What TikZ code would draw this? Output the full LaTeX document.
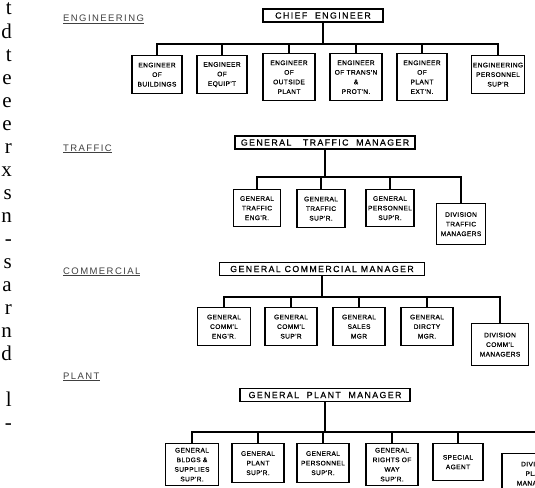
\documentclass[tikz,border=0pt]{standalone}
\usepackage{fontspec}
\setmainfont{Liberation Serif}
\newfontfamily\chartfont[LetterSpace=6,FakeBold=0.6]{Liberation Sans}
\newfontfamily\bossfont[LetterSpace=16,FakeBold=0.5]{Liberation Sans}
\newfontfamily\headfont[LetterSpace=15]{Liberation Sans}

\begin{document}
\begin{tikzpicture}[x=1pt,y=-1pt,
	unit/.style={draw,line width=1.3pt,align=center,anchor=north,inner sep=1.2pt,
		minimum height=38pt,font=\chartfont\fontsize{6.6}{9.6}\selectfont},
	boss/.style={draw,line width=1.3pt,inner sep=1pt,minimum height=13pt,
		font=\bossfont\fontsize{8.8}{10}\selectfont},
	dept/.style={anchor=base west,inner sep=0pt,text=black!75,font=\headfont\fontsize{9.5}{11}\selectfont},
	bus/.style={line width=2.6pt},
	margin/.style={anchor=base east,inner sep=0pt,font=\fontsize{21}{23}\selectfont}]

	\clip (0,0) rectangle (535,487);

	% cut-off column of the page
	\foreach \ch/\yy [count=\i] in {t/15,d/38,t/61,e/84,e/107,e/130,r/153,x/176,s/199,n/222,
		-/245,s/268,a/291,r/314,n/337,d/360,l/406,-/429}
		\node[margin] (m\i) at (12,\yy) {\ch};

	% department names
	\node[dept] (englbl) at (63,22) {\underline{ENGINEERING}};
	\node[dept] (trflbl) at (63,151) {\underline{TRAFFIC}};
	\node[dept] (comlbl) at (63,274) {\underline{COMMERCIAL}};
	\node[dept] (plalbl) at (63,379) {\underline{PLANT}};

	% engineering
	\node[boss,minimum width=120pt] (chief) at (323,15.5) {CHIEF\ \ ENGINEER};
	\coordinate (ebus) at (323,44);
	\node[unit,minimum width=50pt] (eng1) at (157,55) {ENGINEER\\OF\\BUILDINGS};
	\node[unit,minimum width=50pt] (eng2) at (222,55) {ENGINEER\\OF\\EQUIP'T};
	\node[unit,minimum width=52pt,minimum height=47pt] (eng3) at (289,53) {ENGINEER\\OF\\OUTSIDE\\PLANT};
	\node[unit,minimum width=52pt,minimum height=47pt] (eng4) at (356,53) {ENGINEER\\OF TRANS'N\\\&\\PROT'N.};
	\node[unit,minimum width=50pt,minimum height=47pt] (eng5) at (422,53) {ENGINEER\\OF\\PLANT\\EXT'N.};
	\node[unit,minimum width=50pt] (eng6) at (498,55) {ENGINEERING\\PERSONNEL\\SUP'R};

	\draw[bus] (chief) -- (ebus);
	\draw[bus] (eng1.north) |- (eng6.north |- ebus) -- (eng6.north);
	\foreach \n in {eng2,eng3,eng4,eng5}
		\draw[bus] (\n.north) -- (\n.north |- ebus);

	% traffic
	\node[boss,minimum width=180pt] (gtm) at (325,142.5) {GENERAL\ \ \ TRAFFIC\ \ MANAGER};
	\coordinate (tbus) at (325,177);
	\node[unit,minimum width=47pt,minimum height=37pt] (trf1) at (257,189) {GENERAL\\TRAFFIC\\ENG'R.};
	\node[unit,minimum width=48pt,minimum height=38pt] (trf2) at (321,189) {GENERAL\\TRAFFIC\\SUP'R.};
	\node[unit,minimum width=48pt,minimum height=37pt] (trf3) at (390,189) {GENERAL\\PERSONNEL\\SUP'R.};
	\node[unit,minimum width=49pt,minimum height=41pt] (trf4) at (461,203) {DIVISION\\TRAFFIC\\MANAGERS};

	\draw[bus] (gtm) -- (tbus);
	\draw[bus] (trf1.north) |- (trf4.north |- tbus) -- (trf4.north);
	\foreach \n in {trf2,trf3}
		\draw[bus] (\n.north) -- (\n.north |- tbus);

	% commercial
	\node[boss,minimum width=205pt] (gcm) at (322,269) {GENERAL COMMERCIAL MANAGER};
	\coordinate (cbus) at (322,297);
	\node[unit,minimum width=53pt] (com1) at (224,307) {GENERAL\\COMM'L\\ENG'R.};
	\node[unit,minimum width=52pt] (com2) at (291,307) {GENERAL\\COMM'L\\SUP'R};
	\node[unit,minimum width=52pt] (com3) at (359,307) {GENERAL\\SALES\\MGR};
	\node[unit,minimum width=52pt] (com4) at (427,307) {GENERAL\\DIRCTY\\MGR.};
	\node[unit,minimum width=57pt,minimum height=42pt] (com5) at (500,323) {DIVISION\\COMM'L\\MANAGERS};

	\draw[bus] (gcm) -- (cbus);
	\draw[bus] (com1.north) |- (com5.north |- cbus) -- (com5.north);
	\foreach \n in {com2,com3,com4}
		\draw[bus] (\n.north) -- (\n.north |- cbus);

	% plant
	\node[boss,minimum width=170pt] (gpm) at (325,395) {GENERAL\ \ PLANT\ \ MANAGER};
	\coordinate (pbus) at (325,432);
	\node[unit,minimum width=53pt,minimum height=42pt] (pla1) at (192,443) {GENERAL\\BLDGS \&\\SUPPLIES\\SUP'R.};
	\node[unit,minimum width=52pt,minimum height=39pt] (pla2) at (258,443) {GENERAL\\PLANT\\SUP'R.};
	\node[unit,minimum width=52pt,minimum height=39pt] (pla3) at (323,443) {GENERAL\\PERSONNEL\\SUP'R.};
	\node[unit,minimum width=52pt,minimum height=42pt] (pla4) at (392,443) {GENERAL\\RIGHTS OF\\WAY\\SUP'R.};
	\node[unit,minimum width=50pt,minimum height=37pt] (pla5) at (458,443) {SPECIAL\\AGENT};
	\node[unit,minimum width=70pt,minimum height=40pt] (pla6) at (537,453) {DIVISION\\PLANT\\MANAGERS};

	\draw[bus] (gpm) -- (pbus);
	\draw[bus] (pla1.north) |- (pla6.north |- pbus) -- (pla6.north);
	\foreach \n in {pla2,pla3,pla4,pla5}
		\draw[bus] (\n.north) -- (\n.north |- pbus);
\end{tikzpicture}
\end{document}
